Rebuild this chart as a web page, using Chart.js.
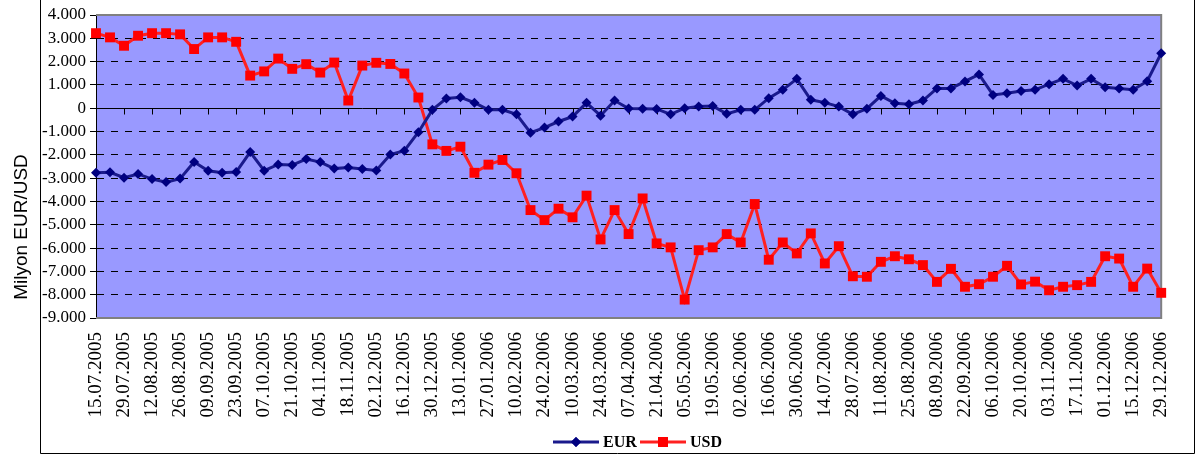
<!DOCTYPE html>
<html lang="tr">
<head>
    <meta charset="UTF-8">
    <title>EUR / USD</title>
    <script src="https://cdn.jsdelivr.net/npm/chart.js"></script>
    <style>
        body {
            margin: 0;
            background: #ffffff;
        }
        #wrap {
            width: 1198px;
            height: 456px;
        }
    </style>
</head>
<body>
    <div id="wrap"><canvas id="fxChart" width="1198" height="456"></canvas></div>

    <script>
        // weekly dates, every second one shown on the axis
        const dates = [
            "15.07.2005", "22.07.2005", "29.07.2005", "05.08.2005", "12.08.2005", "19.08.2005", "26.08.2005",
            "02.09.2005", "09.09.2005", "16.09.2005", "23.09.2005", "30.09.2005", "07.10.2005", "14.10.2005",
            "21.10.2005", "28.10.2005", "04.11.2005", "11.11.2005", "18.11.2005", "25.11.2005", "02.12.2005",
            "09.12.2005", "16.12.2005", "23.12.2005", "30.12.2005", "06.01.2006", "13.01.2006", "20.01.2006",
            "27.01.2006", "03.02.2006", "10.02.2006", "17.02.2006", "24.02.2006", "03.03.2006", "10.03.2006",
            "17.03.2006", "24.03.2006", "31.03.2006", "07.04.2006", "14.04.2006", "21.04.2006", "28.04.2006",
            "05.05.2006", "12.05.2006", "19.05.2006", "26.05.2006", "02.06.2006", "09.06.2006", "16.06.2006",
            "23.06.2006", "30.06.2006", "07.07.2006", "14.07.2006", "21.07.2006", "28.07.2006", "04.08.2006",
            "11.08.2006", "18.08.2006", "25.08.2006", "01.09.2006", "08.09.2006", "15.09.2006", "22.09.2006",
            "29.09.2006", "06.10.2006", "13.10.2006", "20.10.2006", "27.10.2006", "03.11.2006", "10.11.2006",
            "17.11.2006", "24.11.2006", "01.12.2006", "08.12.2006", "15.12.2006", "22.12.2006", "29.12.2006"
        ];

        const eur = [
            -2770, -2750, -2980, -2820, -3040, -3170, -3020, -2310, -2680, -2770,
            -2740, -1880, -2680, -2410, -2440, -2180, -2310, -2590, -2540, -2610,
            -2670, -1990, -1820, -1030, -70, 420, 470, 240, -70, -70,
            -260, -1050, -830, -570, -360, 230, -320, 330, -10, -20,
            -30, -260, 0, 70, 100, -240, -70, -70, 430, 790,
            1260, 360, 240, 70, -260, -20, 530, 210, 170, 330,
            850, 850, 1150, 1450, 570, 640, 740, 790, 1030, 1260,
            970, 1260, 900, 850, 790, 1160, 2360
        ];

        const usd = [
            3220, 3040, 2680, 3110, 3220, 3220, 3170, 2540, 3040, 3040,
            2850, 1400, 1580, 2130, 1690, 1890, 1530, 1960, 330, 1830,
            1950, 1900, 1490, 460, -1550, -1830, -1650, -2770, -2420, -2220,
            -2790, -4370, -4800, -4310, -4680, -3750, -5630, -4370, -5400, -3870,
            -5800, -5970, -8210, -6090, -5970, -5400, -5760, -4110, -6500, -5760,
            -6230, -5370, -6660, -5920, -7210, -7230, -6590, -6350, -6480, -6730,
            -7450, -6890, -7660, -7550, -7230, -6760, -7560, -7440, -7810, -7660,
            -7590, -7450, -6350, -6450, -7660, -6880, -7920
        ];

        const yMin = -9000;
        const yMax = 4000;

        const EUR_COLOR = "#000080";
        const USD_COLOR = "#ff0000";
        const SERIF = "'Liberation Serif', 'Times New Roman', serif";

        function fmt(v) {
            if (v === 0) return "0";
            return (v / 1000).toFixed(0) + ".000";
        }

        // plot background, frame, zero axis with its tick marks, title and legend
        const excelLook = {
            id: "excelLook",
            beforeDraw(chart) {
                const { ctx, chartArea: a } = chart;
                ctx.save();
                ctx.fillStyle = "#ffffff";
                ctx.fillRect(0, 0, chart.width, chart.height);
                ctx.fillStyle = "#9999ff";
                ctx.fillRect(a.left, a.top, a.right - a.left, a.bottom - a.top);

                // outer frame
                ctx.strokeStyle = "#000";
                ctx.lineWidth = 1;
                ctx.beginPath();
                ctx.moveTo(40.5, 0);
                ctx.lineTo(40.5, 453.5);
                ctx.lineTo(1194.5, 453.5);
                ctx.lineTo(1194.5, 0);
                ctx.stroke();
                ctx.restore();
            },
            beforeDatasetsDraw(chart) {
                const { ctx, chartArea: a, scales: { x, y } } = chart;
                const y0 = Math.round(y.getPixelForValue(0)) + 0.5;
                ctx.save();
                ctx.strokeStyle = "#000";
                ctx.lineWidth = 1;
                ctx.beginPath();
                ctx.moveTo(a.left, y0);
                ctx.lineTo(a.right, y0);
                for (let i = 2; i < dates.length; i += 2) {
                    const px = Math.round(x.getPixelForValue(i)) + 0.5;
                    ctx.moveTo(px, y0);
                    ctx.lineTo(px, y0 + 6);
                }
                ctx.stroke();

                // plot area border (left side is the y axis)
                ctx.strokeStyle = "#808080";
                ctx.lineWidth = 2;
                ctx.beginPath();
                ctx.moveTo(a.left, a.top);
                ctx.lineTo(a.right, a.top);
                ctx.lineTo(a.right, a.bottom);
                ctx.lineTo(a.left, a.bottom);
                ctx.stroke();
                ctx.restore();
            },
            afterDraw(chart) {
                const { ctx } = chart;
                ctx.save();
                // y axis title
                ctx.translate(22, 227);
                ctx.rotate(-Math.PI / 2);
                ctx.fillStyle = "#000";
                ctx.font = "19px 'Liberation Sans', Arial, sans-serif";
                ctx.textAlign = "center";
                ctx.textBaseline = "middle";
                ctx.fillText("Milyon EUR/USD", 0, 0);
                ctx.restore();

                // legend
                const items = [
                    { label: "EUR", color: "#1a1a8c", style: "rectRot", r: 5, x: 553 },
                    { label: "USD", color: "#ff2020", style: "rect", r: 7, x: 640 }
                ];
                const ly = 442;
                ctx.save();
                ctx.font = "bold 16px " + SERIF;
                ctx.textBaseline = "middle";
                items.forEach(it => {
                    ctx.strokeStyle = it.color;
                    ctx.lineWidth = 3;
                    ctx.beginPath();
                    ctx.moveTo(it.x, ly);
                    ctx.lineTo(it.x + 46, ly);
                    ctx.stroke();
                    ctx.fillStyle = it.style === "rect" ? USD_COLOR : EUR_COLOR;
                    Chart.helpers.drawPoint(ctx, { pointStyle: it.style, radius: it.r, rotation: 0, borderWidth: 0 }, it.x + 23, ly);
                    ctx.fill();
                    ctx.fillStyle = "#000";
                    ctx.fillText(it.label, it.x + 50, ly + 1);
                });
                ctx.restore();
            }
        };

        new Chart(document.getElementById("fxChart"), {
            type: "line",
            data: {
                labels: dates,
                datasets: [
                    {
                        label: "EUR",
                        data: eur,
                        borderColor: "#1a1a8c",
                        borderWidth: 3,
                        backgroundColor: EUR_COLOR,
                        pointStyle: "rectRot",
                        pointRadius: 5,
                        pointBorderWidth: 0,
                        pointBackgroundColor: EUR_COLOR,
                        tension: 0,
                        clip: false
                    },
                    {
                        label: "USD",
                        data: usd,
                        borderColor: "#ff2020",
                        borderWidth: 3,
                        backgroundColor: USD_COLOR,
                        pointStyle: "rect",
                        pointRadius: 7,
                        pointBorderWidth: 0,
                        pointBackgroundColor: USD_COLOR,
                        tension: 0,
                        clip: false
                    }
                ]
            },
            options: {
                responsive: false,
                animation: false,
                layout: { padding: { top: 15, right: 13, left: 0, bottom: 0 } },
                plugins: {
                    legend: { display: false },
                    tooltip: { enabled: false }
                },
                scales: {
                    x: {
                        afterFit(scale) { scale.height = 138; },
                        grid: { display: false, drawTicks: false },
                        border: { display: false },
                        ticks: {
                            autoSkip: false,
                            minRotation: 90,
                            maxRotation: 90,
                            padding: 14,
                            color: "#000",
                            font: { family: SERIF, size: 19 },
                            callback: (v, i) => (i % 2 === 0 ? dates[i] : "")
                        }
                    },
                    y: {
                        min: yMin,
                        max: yMax,
                        afterFit(scale) { scale.width = 96; },
                        grid: {
                            color: ctx => {
                                const v = ctx.tick ? ctx.tick.value : null;
                                return (v === 0 || v === yMax || v === yMin) ? "rgba(0,0,0,0)" : "#000";
                            },
                            lineWidth: 1,
                            tickLength: 6,
                            tickColor: "#000"
                        },
                        border: { display: true, color: "#000", width: 1, dash: [7, 7] },
                        ticks: {
                            autoSkip: false,
                            stepSize: 1000,
                            padding: 4,
                            color: "#000",
                            font: { family: SERIF, size: 17 },
                            callback: v => fmt(v)
                        }
                    }
                }
            },
            plugins: [excelLook]
        });
    </script>
</body>
</html>
